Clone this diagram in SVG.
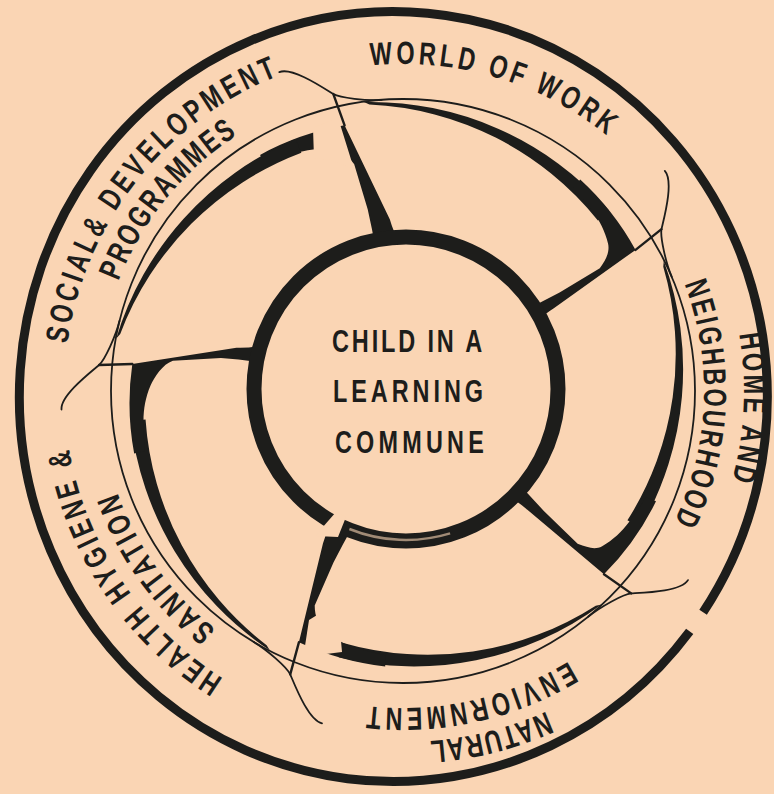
<svg xmlns="http://www.w3.org/2000/svg" width="774" height="794" viewBox="0 0 774 794">
<defs>
<style>
.ink{fill:#1d1d1b}
.line{fill:none;stroke:#1d1d1b;stroke-width:1.8;stroke-linecap:round;stroke-linejoin:round}
.spk{fill:none;stroke:#1d1d1b;stroke-width:2.4;stroke-linecap:round}
.bg{fill:#FAD5B4}
.lbl{font-family:"Liberation Sans",Arial,sans-serif;font-weight:bold;font-size:32px;fill:#1d1d1b}
</style>
<path id="band" d="M290.2,27.9 A315,315 0 0 1 128.6,241.9 L121.6,228.7 A311,311 0 0 0 286.6,32.7 Z"/>
<path id="hook" d="M338.7,-47.6 C341,-34 314,-9 305,0 C299.6,5.8 290.7,30.9 288.4,45.7"/>
<path id="spoke-line" d="M305,0 L272,3.8"/>
<path id="tp-world" d="M370.5,65.6 A327,327 0 0 1 612.3,139.8"/>
<path id="tp-social" d="M67.3,343.8 A339,339 0 0 1 284.3,73.5"/>
<path id="tp-prog" d="M118.5,281.2 A305,305 0 0 1 240.5,132.9"/>
<path id="tp-home" d="M739.2,334.1 A341,341 0 0 1 731.1,483.8"/>
<path id="tp-neigh" d="M684.3,283.9 A301,301 0 0 1 672.3,525.5"/>
<path id="tp-natural" d="M546.3,711.4 A351,351 0 0 1 426.9,741.2"/>
<path id="tp-env" d="M568.6,661.3 A317,317 0 0 1 362.2,705.4"/>
<path id="tp-health" d="M223.4,678.5 A339,339 0 0 1 68.1,443.4"/>
<path id="tp-sanit" d="M216,629.4 A303,303 0 0 1 115.8,487.6"/>
</defs>
<rect width="774" height="794" class="bg"/>
<g id="outer-ring"><path d="M689.7,631.4 A374,385 0 1 1 703.1,612.3" fill="none" stroke="#1d1d1b" stroke-width="9"/></g>
<g id="thin-ring"><circle cx="403" cy="391" r="292" class="line"/></g>
<g id="pinwheel">
<g id="spoke-top" transform="translate(403,391) rotate(-103.2)">
<path class="ink" d="M262.5,-85.3 A274,274 0 0 1 272,3.8 L170,26.4 Q147.4,27.6 140.7,35.1 L144.9,5.8 Q164.9,7 184.9,7.1 L232,4.3 C242,0.3 249,-8 252,-16 C256,-28 257,-40 256,-52 A262,262 0 0 0 252,-81.9 Z"/>
<use href="#band" class="ink"/><use href="#hook" class="line"/><use href="#spoke-line" class="spk"/>
</g>
<g id="spoke-right-upper" transform="translate(403,391) rotate(-32.05)">
<path class="ink" d="M262.5,-85.3 A274,274 0 0 1 272,3.8 L171.7,10 Q149.7,10.1 143.9,17.7 L145,-3.9 Q165,-1.9 185,-0.4 L232,0.3 C242,-3.7 249,-8 252,-16 C256,-28 257,-40 256,-52 A262,262 0 0 0 252,-81.9 Z"/>
<use href="#band" class="ink"/><use href="#hook" class="line"/><use href="#spoke-line" class="spk"/>
</g>
<g id="spoke-right-lower" transform="translate(403,391) rotate(41.57)">
<path class="ink" d="M262.5,-85.3 A274,274 0 0 1 272,3.8 L171.9,6.4 Q149.9,6.4 144.3,13.9 L144.8,-7.7 Q164.9,-5.6 185,-3.7 L232,-1.6 C242,-5.6 249,-8 252,-16 C256,-28 257,-40 256,-52 A262,262 0 0 0 252,-81.9 Z"/>
<use href="#band" class="ink"/><use href="#hook" class="line"/><use href="#spoke-line" class="spk"/>
</g>
<g id="spoke-bottom-left" transform="translate(403,391) rotate(111.7)">
<path class="ink" d="M262.5,-85.3 A274,274 0 0 1 272,3.8 L171.1,18 Q148.8,18.6 142.6,26.2 L145,-3.3 Q165,-0.7 185,1.2 L232,2.7 C242,-1.3 249,-8 252,-16 C256,-28 257,-40 256,-52 A262,262 0 0 0 252,-81.9 Z"/>
<use href="#band" class="ink"/><use href="#hook" class="line"/><use href="#spoke-line" class="spk"/>
</g>
<g id="spoke-left" transform="translate(403,391) rotate(184.9)">
<path class="ink" d="M262.5,-85.3 A274,274 0 0 1 272,3.8 L169.6,28.8 Q147,30.1 140.1,37.5 L144.1,16.3 Q164.1,17.5 184.2,17.3 L231.8,10.5 C241.8,6.5 249,-8 252,-16 C256,-28 257,-40 256,-52 A262,262 0 0 0 252,-81.9 Z"/>
<use href="#band" class="ink"/><use href="#hook" class="line"/><use href="#spoke-line" class="spk"/>
</g>
<g id="print-breaks">
<path class="bg" d="M313,128 L332,120 L340,124 L354,169 L330,160 L314,158 Z"/>
<path class="bg" d="M309,620 L322,612 L340,630 L342,652 L318,655 L305,646 Z"/>
</g>
</g>
<g id="centre">
<circle cx="406" cy="389" r="152" class="bg" stroke="#1d1d1b" stroke-width="15"/>
<path class="bg" d="M336,512 L346,517 L338,537 L316,536 L322,528 Z"/>
<path d="M450.1,533.4 A151,151 0 0 1 349.4,529" fill="none" stroke="#FAD5B4" stroke-width="2.5" stroke-opacity="0.6"/>
<text class="lbl" x="332" y="352" textLength="153" lengthAdjust="spacingAndGlyphs" letter-spacing="3.9">CHILD IN A</text>
<text class="lbl" x="333" y="402" textLength="154" lengthAdjust="spacingAndGlyphs" letter-spacing="5.4">LEARNING</text>
<text class="lbl" x="335" y="453" textLength="153" lengthAdjust="spacingAndGlyphs" letter-spacing="5.8">COMMUNE</text>
</g>
<g id="label-world"><text class="lbl" letter-spacing="5"><textPath href="#tp-world" textLength="256" lengthAdjust="spacingAndGlyphs">WORLD OF WORK</textPath></text></g>
<g id="label-social">
<text class="lbl" letter-spacing="5"><textPath href="#tp-social" textLength="360" lengthAdjust="spacingAndGlyphs">SOCIAL&amp; DEVELOPMENT</textPath></text>
<text class="lbl" letter-spacing="2.8"><textPath href="#tp-prog" textLength="193" lengthAdjust="spacingAndGlyphs">PROGRAMMES</textPath></text>
</g>
<g id="label-home">
<text class="lbl" letter-spacing="3.9"><textPath href="#tp-home" textLength="150" lengthAdjust="spacingAndGlyphs">HOME AND</textPath></text>
<text class="lbl" letter-spacing="3.6"><textPath href="#tp-neigh" textLength="247" lengthAdjust="spacingAndGlyphs">NEIGHBOURHOOD</textPath></text>
</g>
<g id="label-natural">
<text class="lbl" letter-spacing="1.9"><textPath href="#tp-natural" textLength="122" lengthAdjust="spacingAndGlyphs">NATURAL</textPath></text>
<text class="lbl" letter-spacing="5"><textPath href="#tp-env" textLength="213" lengthAdjust="spacingAndGlyphs">ENVIORNMENT</textPath></text>
</g>
<g id="label-health">
<text class="lbl" letter-spacing="4.9"><textPath href="#tp-health" textLength="288" lengthAdjust="spacingAndGlyphs">HEALTH HYGIENE &amp;</textPath></text>
<text class="lbl" letter-spacing="4.3"><textPath href="#tp-sanit" textLength="174" lengthAdjust="spacingAndGlyphs">SANITATION</textPath></text>
</g>
</svg>
